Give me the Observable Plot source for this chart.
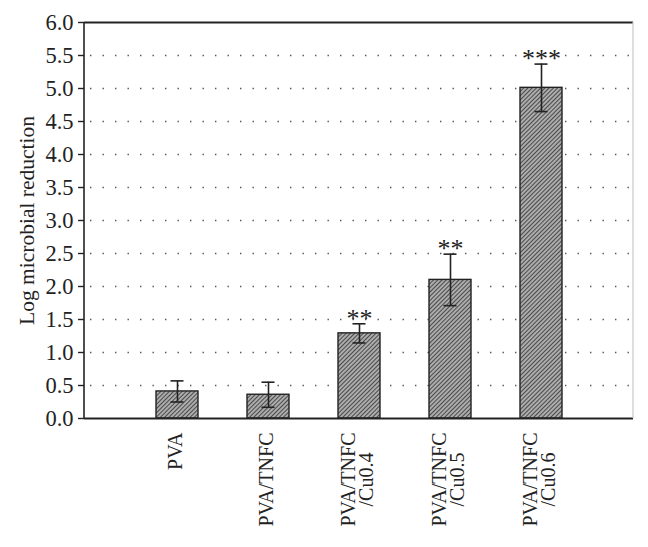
<!DOCTYPE html>
<html><head><meta charset="utf-8">
<script src="https://cdn.jsdelivr.net/npm/d3@7"></script>
<script src="https://cdn.jsdelivr.net/npm/@observablehq/plot@0.6"></script>
<style>body{margin:0;background:#fff} svg{display:block}</style>
</head><body><div id="chart"></div>
<script>
const categories = ["PVA", "PVA/TNFC", "PVA/TNFC\n/Cu0.4", "PVA/TNFC\n/Cu0.5", "PVA/TNFC\n/Cu0.6"];
const means = [0.41, 0.36, 1.29, 2.10, 5.01];
const errors = [0.16, 0.19, 0.145, 0.39, 0.36];
const significance = ["", "", "**", "**", "***"];
const yTicks = [0, 0.5, 1, 1.5, 2, 2.5, 3, 3.5, 4, 4.5, 5, 5.5, 6];
const yLabel = "Log microbial reduction";

const data = categories.map((c, i) => ({category: c, mean: means[i], err: errors[i], sig: significance[i]}));
const FONT = "'Liberation Serif', 'Times New Roman', serif";
const ink = "#222";

const hatchDefs = () => {
  const defs = d3.create("svg:defs");
  const p = defs.append("pattern").attr("id", "hatch").attr("patternUnits", "userSpaceOnUse")
    .attr("width", 3).attr("height", 3).attr("patternTransform", "rotate(45)");
  p.append("rect").attr("width", 3).attr("height", 3).attr("fill", "#acacac");
  p.append("line").attr("x1", 0.5).attr("y1", 0).attr("x2", 0.5).attr("y2", 3)
    .attr("stroke", "#4a4a4a").attr("stroke-width", 1);
  return defs.node();
};

const sideLines = (index, scales, values, dims) => {
  const {width, height, marginLeft, marginRight, marginTop, marginBottom} = dims;
  const g = d3.create("svg:g");
  const l = marginLeft, r = width - marginRight, t = marginTop, b = height - marginBottom;
  g.append("line").attr("x1", r).attr("x2", r).attr("y1", t).attr("y2", b)
    .attr("stroke", "#c8c8c8").attr("stroke-width", 1.2);
  g.append("line").attr("x1", l).attr("x2", l).attr("y1", t).attr("y2", b)
    .attr("stroke", ink).attr("stroke-width", 1.6);
  return g.node();
};

const ctx = document.createElement("canvas").getContext("2d");
ctx.font = "20px 'Liberation Serif'";

const xLabelMarks = categories.map(c => {
  const w = ctx.measureText(c.split("\n")[0]).width;
  return Plot.text([c], {
    x: d => d, frameAnchor: "bottom", rotate: -90, textAnchor: "middle", lineAnchor: "middle",
    lineHeight: 0.9, fontSize: 20, dy: 14 + w / 2, dx: -1, fill: ink
  });
});

const chart = Plot.plot({
  width: 648,
  height: 547,
  marginLeft: 84,
  marginRight: 15,
  marginTop: 22,
  marginBottom: 129,
  style: {fontFamily: FONT, background: "#fff", color: ink},
  x: {type: "band", domain: categories, paddingInner: 0.54, paddingOuter: 0.77, axis: null},
  y: {domain: [0, 6], axis: null},
  marks: [
    hatchDefs,
    Plot.gridY(yTicks.filter(t => t > 0 && t < 6), {stroke: "#555", strokeOpacity: 1, strokeWidth: 1.4, strokeDasharray: "1.4,11.1", strokeDashoffset: -6}),
    Plot.barY(data, {x: "category", y: "mean", fill: "url(#hatch)", stroke: ink, strokeWidth: 1.4}),
    Plot.ruleX(data, {x: "category", y1: d => d.mean - d.err, y2: d => d.mean + d.err, stroke: ink, strokeWidth: 1.6}),
    Plot.tickY(data, {x: "category", y: d => d.mean - d.err, insetLeft: 14.5, insetRight: 14.5, stroke: ink, strokeWidth: 1.6}),
    Plot.tickY(data, {x: "category", y: d => d.mean + d.err, insetLeft: 14.5, insetRight: 14.5, stroke: ink, strokeWidth: 1.6}),
    Plot.text(data, {x: "category", y: d => d.mean + d.err, text: "sig", dy: -5, fontSize: 26, lineAnchor: "middle", fill: ink}),
    Plot.ruleY([0, 6], {stroke: ink, strokeWidth: 1.8}),
    sideLines,
    Plot.axisY(yTicks, {tickFormat: d => d.toFixed(1), tickSize: 6, tickPadding: 5, fontSize: 22.5, label: null, stroke: ink, strokeWidth: 1.4, fill: ink}),
    Plot.text([yLabel], {frameAnchor: "left", rotate: -90, dx: -57, fontSize: 21.5, textAnchor: "middle", lineAnchor: "middle", fill: ink}),
    ...xLabelMarks
  ]
});
document.getElementById("chart").appendChild(chart);
</script>
</body></html>
